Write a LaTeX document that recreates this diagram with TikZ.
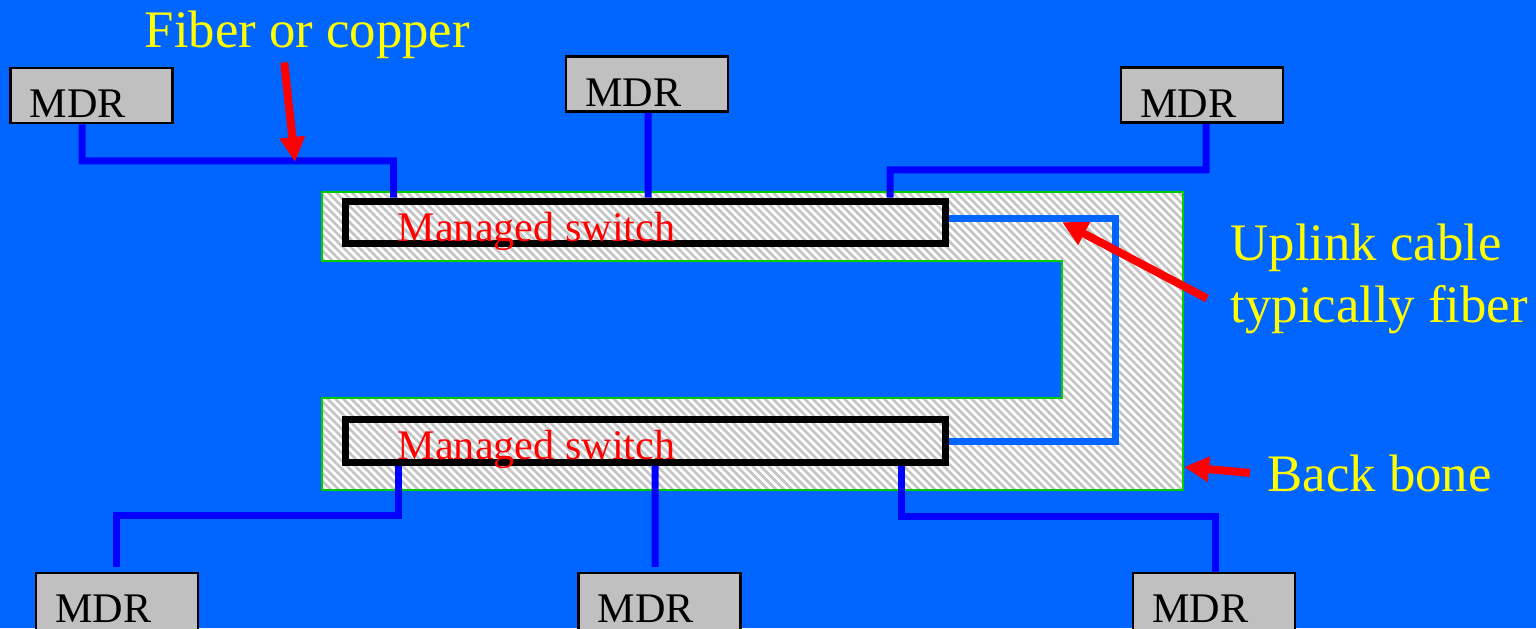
\documentclass[tikz,border=0pt]{standalone}
\usepackage{fontspec}
\setmainfont{Liberation Serif}
\usetikzlibrary{arrows.meta,positioning,calc,patterns.meta}
\definecolor{SlideBlue}{HTML}{0066FF}
\definecolor{CableBlue}{HTML}{0000FF}
\definecolor{MdrGray}{HTML}{C0C0C0}
\definecolor{HatchGray}{HTML}{C4C4C4}
\definecolor{BoneGreen}{HTML}{00CC00}
\definecolor{NoteYellow}{HTML}{FFFF00}
\definecolor{NoteRed}{HTML}{FF0000}

\begin{document}
\begin{tikzpicture}[x=0.1mm,y=-0.1mm,font=\fontsize{12}{14}\selectfont]
\tikzset{mdr/.style={draw=black,line width=0.25mm,fill=MdrGray,minimum width=16.2mm,minimum height=5.5mm,inner sep=0pt,
            label={[anchor=base west,inner sep=0pt,xshift=2mm,yshift=-5.1mm]north west:MDR}},
         switchbox/.style={draw=black,line width=0.7mm,minimum width=60mm,minimum height=4.25mm,inner sep=0pt},
         swlabel/.style={text=NoteRed,inner sep=0pt,anchor=base west},
         cable/.style={draw=CableBlue,line width=0.7mm},
         uplink/.style={draw=SlideBlue,line width=0.7mm},
         backbone/.style={draw=BoneGreen,line width=0.25mm,preaction={fill=white},
            pattern={Lines[angle=-45,distance=1.6pt,line width=0.75pt]},pattern color=HatchGray},
         note/.style={text=NoteYellow,font=\fontsize{15}{17.6}\selectfont,inner sep=0pt,anchor=base west,align=left},
         pointer/.style={draw=NoteRed,line width=0.8mm,-{Triangle[length=2.5mm,width=2.4mm]}}}
\fill[SlideBlue] (0,0) rectangle (1536,628);
\useasboundingbox (0,0) rectangle (1536,628);
% backbone outline
\draw[backbone] (322,192) -- (1183,192) -- (1183,490) -- (322,490) -- (322,398)
   -- (1062,398) -- (1062,261) -- (322,261) -- cycle;
\node[switchbox] (swA) at (645.5,222.25) {};
\node[switchbox] (swB) at (645.5,441) {};
\node[swlabel] (swAtxt) at (397,241) {Managed switch};
\node[swlabel] (swBtxt) at (397,459) {Managed switch};
\node[mdr] (mdrA) at (91.5,95.5) {};
\node[mdr] (mdrB) at (647,84) {};
\node[mdr] (mdrC) at (1202,95) {};
\node[mdr,minimum height=6mm] (mdrD) at (117,603) {};
\node[mdr,minimum height=6mm] (mdrE) at (659.5,603) {};
\node[mdr,minimum height=6mm] (mdrF) at (1214,603) {};
% cables
\draw[cable] ([xshift=-0.95mm]mdrA.south) |- ++(311.5,36.5) -- ([xshift=-25.2mm]swA.north);
\draw[cable] ([xshift=0.1mm]mdrB.south) -- ([xshift=0.25mm]swA.north);
\draw[cable] ([xshift=0.4mm]mdrC.south) |- ++(-316,46) -- ([xshift=24.45mm]swA.north);
\draw[cable,shorten >=0.5mm] ([xshift=-24.75mm]swB.south) -- ++(0,50) -| ([xshift=-0.1mm]mdrD.north);
\draw[cable,shorten >=0.5mm] ([xshift=0.95mm]swB.south) -- ([xshift=-0.45mm]mdrE.north);
\draw[cable] ([xshift=25.6mm]swB.south) -- ++(0,51) -| ([xshift=0.1mm]mdrF.north);
\draw[uplink] ([yshift=0.4mm]swA.east) -- ++(166.5,0) |- (swB.east);
% notes
\node[note] (fiberLbl) at (144,47) {Fiber or copper};
\node[note] (uplinkLbl) at (1230,322) {Uplink cable\\typically fiber};
\node[note] (boneLbl) at (1267,491) {Back bone};
\coordinate (fiberTip) at (295,162);
\coordinate (uplinkTip) at (1062,222);
\coordinate (boneTip) at (1184,467);
\draw[pointer] ([xshift=-2.3mm,yshift=-0.35mm]fiberLbl.south) -- (fiberTip);
\draw[pointer] ([xshift=-2.3mm,yshift=-2mm]uplinkLbl.west) -- (uplinkTip);
\draw[pointer] ([xshift=-1.7mm]boneLbl.west) -- (boneTip);
\end{tikzpicture}
\end{document}
